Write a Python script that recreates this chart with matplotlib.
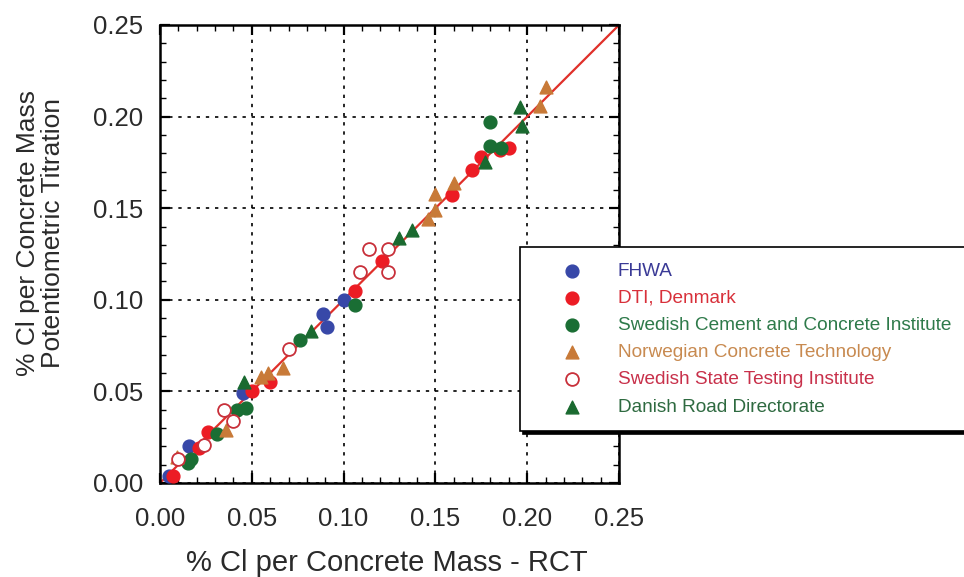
import matplotlib.pyplot as plt
from matplotlib.ticker import MultipleLocator

plt.rcParams['font.family'] = ['Liberation Sans', 'DejaVu Sans']

# data
fhwa_x = [0.005, 0.016, 0.045, 0.089, 0.091, 0.100]
fhwa_y = [0.004, 0.020, 0.049, 0.092, 0.085, 0.100]

dti_x = [0.007, 0.021, 0.026, 0.050, 0.060, 0.106, 0.121, 0.159, 0.170, 0.175, 0.185, 0.190]
dti_y = [0.004, 0.019, 0.028, 0.050, 0.055, 0.105, 0.121, 0.157, 0.171, 0.178, 0.182, 0.183]

scci_x = [0.015, 0.017, 0.031, 0.042, 0.047, 0.076, 0.106, 0.180, 0.180, 0.186]
scci_y = [0.011, 0.013, 0.027, 0.040, 0.041, 0.078, 0.097, 0.197, 0.184, 0.183]

nct_x = [0.009, 0.036, 0.055, 0.059, 0.067, 0.146, 0.150, 0.150, 0.160, 0.207, 0.210]
nct_y = [0.014, 0.029, 0.058, 0.060, 0.063, 0.144, 0.149, 0.158, 0.164, 0.206, 0.216]

ssti_x = [0.010, 0.024, 0.035, 0.040, 0.070, 0.109, 0.114, 0.124, 0.124]
ssti_y = [0.013, 0.021, 0.040, 0.034, 0.073, 0.115, 0.128, 0.128, 0.115]

drd_x = [0.046, 0.082, 0.130, 0.137, 0.177, 0.196, 0.197]
drd_y = [0.055, 0.083, 0.134, 0.138, 0.175, 0.205, 0.195]

fit_x = [0.0, 0.25]
fit_y = [0.0, 0.25]

labels = ['FHWA', 'DTI, Denmark', 'Swedish Cement and Concrete Institute',
          'Norwegian Concrete Technology', 'Swedish State Testing Institute',
          'Danish Road Directorate']
text_colors = ['#3a3a96', '#d8303a', '#2e7a4a', '#c88a50', '#c8304a', '#2e6a40']

fig = plt.figure(figsize=(9.64, 5.77), dpi=100)
ax = fig.add_axes([160 / 964, 1 - 483 / 577, (619 - 160) / 964, (483 - 25) / 577])

ax.plot(fit_x, fit_y, color='#e0302a', lw=1.6, zorder=2)

ms = 85
ax.scatter(fhwa_x, fhwa_y, s=ms, marker='o', color='#3848a8', zorder=3, label=labels[0])
ax.scatter(dti_x, dti_y, s=ms, marker='o', color='#ec1c24', zorder=3, label=labels[1])
ax.scatter(scci_x, scci_y, s=ms, marker='o', color='#1a6e34', zorder=3, label=labels[2])
ax.scatter(nct_x, nct_y, s=ms, marker='^', color='#c87a38', zorder=3, label=labels[3])
ax.scatter(ssti_x, ssti_y, s=ms, marker='o', facecolors='white', edgecolors='#c8303a',
           linewidths=1.3, zorder=3, label=labels[4])
ax.scatter(drd_x, drd_y, s=ms, marker='^', color='#1a6a30', zorder=3, label=labels[5])

ax.set_xlim(0, 0.25)
ax.set_ylim(0, 0.25)
ax.xaxis.set_major_locator(MultipleLocator(0.05))
ax.yaxis.set_major_locator(MultipleLocator(0.05))
ax.xaxis.set_minor_locator(MultipleLocator(0.01))
ax.yaxis.set_minor_locator(MultipleLocator(0.01))
ax.xaxis.set_major_formatter(lambda v, p: f'{v:.2f}')
ax.yaxis.set_major_formatter(lambda v, p: f'{v:.2f}')
ax.tick_params(which='both', direction='in', top=True, right=True, colors='black',
               labelcolor='#2a2a2a', labelsize=18.5)
ax.tick_params(which='major', length=7, width=1.6)
ax.tick_params(which='minor', length=4, width=1.0)
ax.tick_params(axis='x', which='major', pad=17)
ax.tick_params(axis='y', which='major', pad=12)
for sp in ax.spines.values():
    sp.set_linewidth(1.8)
ax.grid(True, which='major', color='black', linestyle=(0, (2, 3.5)), lw=1.2)
ax.set_axisbelow(True)

ax.set_xlabel('% Cl per Concrete Mass - RCT', fontsize=21, color='#2a2a2a')
ax.xaxis.set_label_coords(0.495, -0.175)
ax.xaxis.label.set_va('center')
ax.set_ylabel('% Cl per Concrete Mass\nPotentiometric Titration', fontsize=19,
              color='#2a2a2a', linespacing=1.05)
ax.yaxis.set_label_coords(-0.261, 0.546)
ax.yaxis.label.set_va('center')

leg = fig.legend(loc='upper left',
                 bbox_to_anchor=(520 / 964, 1 - 432 / 577, (990 - 520) / 964, (432 - 247) / 577),
                 mode='expand', borderaxespad=0, fontsize=13.7, labelcolor=text_colors,
                 handlelength=3.9, handletextpad=0.44, labelspacing=0.52, borderpad=0.8,
                 frameon=True, fancybox=False, edgecolor='black',
                 shadow={'color': 'black', 'alpha': 1, 'ox': 2, 'oy': -2})
leg.get_frame().set_linewidth(1.2)

fig.savefig('out.png', dpi=100)
